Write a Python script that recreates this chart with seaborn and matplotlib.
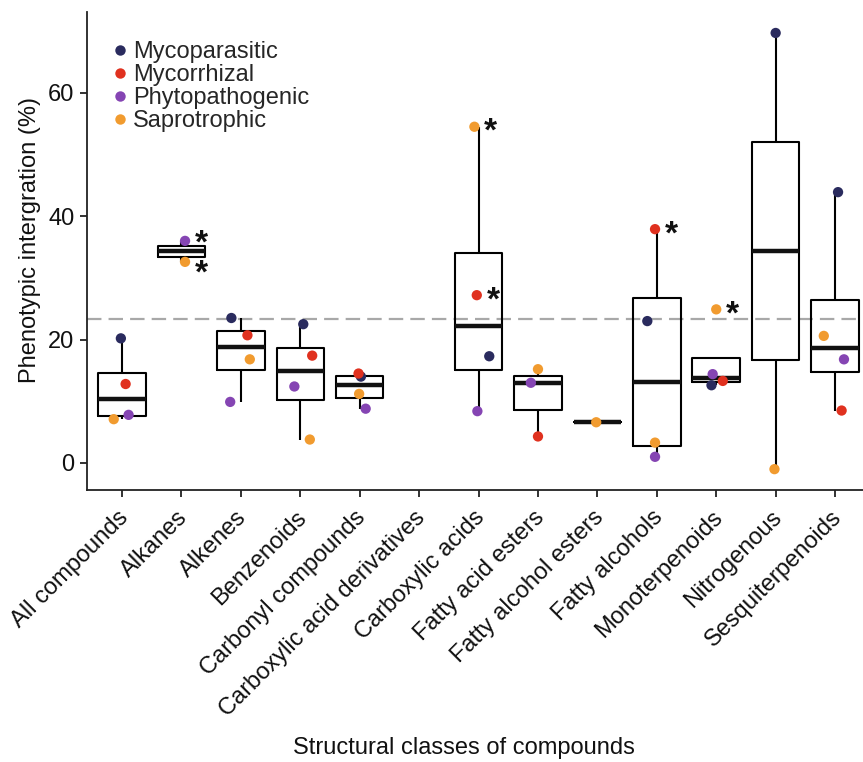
import numpy as np
import pandas as pd
import matplotlib
matplotlib.use("Agg")
import matplotlib.pyplot as plt
import matplotlib.transforms as mtransforms
import seaborn as sns
from matplotlib.lines import Line2D

categories = ["All compounds", "Alkanes", "Alkenes", "Benzenoids", "Carbonyl compounds",
              "Carboxylic acid derivatives", "Carboxylic acids", "Fatty acid esters",
              "Fatty alcohol esters", "Fatty alcohols", "Monoterpenoids", "Nitrogenous",
              "Sesquiterpenoids"]
groups = ["Mycoparasitic", "Mycorrhizal", "Phytopathogenic", "Saprotrophic"]
nan = np.nan
mycoparasitic   = [20.2, nan, 23.5, 22.5, 14.0, nan, 17.3, nan, nan, 23.0, 12.6, 69.7, 43.9]
mycorrhizal     = [12.8, nan, 20.7, 17.4, 14.5, nan, 27.2, 4.3, nan, 37.9, 13.3, nan, 8.5]
phytopathogenic = [7.8, 36.0, 9.9, 12.4, 8.8, nan, 8.4, 13.0, nan, 1.0, 14.4, nan, 16.8]
saprotrophic    = [7.1, 32.6, 16.8, 3.8, 11.2, nan, 54.5, 15.2, 6.6, 3.3, 24.9, -1.0, 20.6]
# horizontal jitter (category units)
jit_myco  = [-0.02, 0, -0.16, 0.05, 0.02, 0, 0.18, 0, 0, -0.16, -0.08, 0.0, 0.05]
jit_mycor = [0.06, 0, 0.11, 0.20, -0.02, 0, -0.03, 0.0, 0, -0.03, 0.11, 0, 0.11]
jit_phyto = [0.11, 0.06, -0.18, -0.10, 0.10, 0, -0.02, -0.12, 0, -0.03, -0.06, 0, 0.15]
jit_sapro = [-0.14, 0.06, 0.15, 0.16, -0.01, 0, -0.07, 0.0, -0.02, -0.03, 0.0, -0.02, -0.19]
reference_line = 23.4
# significance stars: (category, group)
stars = [("Alkanes", "Phytopathogenic"), ("Alkanes", "Saprotrophic"),
         ("Carboxylic acids", "Saprotrophic"), ("Carboxylic acids", "Mycorrhizal"),
         ("Fatty alcohols", "Mycorrhizal"), ("Monoterpenoids", "Saprotrophic")]
palette = {"Mycoparasitic": "#2a2b5e", "Mycorrhizal": "#e0311f",
           "Phytopathogenic": "#8545b3", "Saprotrophic": "#f19b2f"}

rows = []
for g, vals, jit in zip(groups, [mycoparasitic, mycorrhizal, phytopathogenic, saprotrophic],
                        [jit_myco, jit_mycor, jit_phyto, jit_sapro]):
    for i, (c, v, j) in enumerate(zip(categories, vals, jit)):
        if not np.isnan(v):
            rows.append({"category": c, "group": g, "value": v, "pos": i + j})
df = pd.DataFrame(rows)

sns.set_theme(style="ticks")
plt.rcParams["font.family"] = ["Liberation Sans", "DejaVu Sans"]

fig = plt.figure(figsize=(8.63, 7.62), dpi=100)
ax = fig.add_axes([87/863, 1 - 490/762, 1 - 87/863, (490 - 12)/762])

sns.boxplot(data=df, x="category", y="value", order=categories, ax=ax,
            fill=False, color="black", linecolor="#1a1a1a", width=0.8, whis=1.5,
            showfliers=False, showcaps=False, linewidth=1.5,
            medianprops={"linewidth": 3.2, "color": "#111111"})

ax.axhline(reference_line, color="#a8a8a8", lw=1.6, dashes=(6.5, 3.2), zorder=1)

sns.scatterplot(data=df, x="pos", y="value", hue="group", hue_order=groups,
                palette=palette, s=55, edgecolor="none", ax=ax, legend=False, zorder=5)

for cat, grp in stars:
    r = df[(df.category == cat) & (df.group == grp)].iloc[0]
    dy = -4
    if cat == "Alkanes":
        dy = -2 if grp == "Phytopathogenic" else -9
    ax.annotate("*", xy=(r.pos, r.value), xytext=(7, dy), textcoords="offset points",
                ha="left", va="center", fontsize=24, fontweight="bold", color="#111111")

ax.set_xlim(-0.59, 12.47)
ax.set_ylim(-4.38, 73.1)
ax.set_yticks([0, 20, 40, 60])
ax.set_xticks(range(len(categories)))
ax.set_xticklabels(categories, rotation=45, ha="right", rotation_mode="anchor")
ax.tick_params(axis="both", labelsize=17, length=5, width=1.3, color="#222222",
               labelcolor="#111111", pad=4)
shift = mtransforms.ScaledTranslation(-5 / 100, -4 / 100, fig.dpi_scale_trans)
for lab in ax.get_xticklabels():
    lab.set_transform(lab.get_transform() + shift)
ax.set_xlabel("Structural classes of compounds", fontsize=17, color="#111111")
ax.set_ylabel("Phenotypic intergration (%)", fontsize=17, color="#111111")
ax.xaxis.set_label_coords((464 - 87) / 776, -(748 - 490) / 478, transform=ax.transAxes)
ax.yaxis.set_label_coords(-(87 - 30) / 776, (490 - 240) / 478, transform=ax.transAxes)
ax.xaxis.label.set_va("center")
ax.yaxis.label.set_va("center")
for s in ["left", "bottom"]:
    ax.spines[s].set_linewidth(1.3)
    ax.spines[s].set_color("#222222")
sns.despine(ax=ax)

handles = [Line2D([0], [0], marker="o", linestyle="none", markersize=7.5,
                  markerfacecolor=palette[g], markeredgecolor="none", label=g) for g in groups]
ax.legend(handles=handles, loc="upper left", bbox_to_anchor=(0.035, 0.939), frameon=False,
          fontsize=17, handlelength=0.5, handletextpad=0.3, labelspacing=0.04,
          borderaxespad=0, borderpad=0)

fig.savefig("out.png", dpi=100)
